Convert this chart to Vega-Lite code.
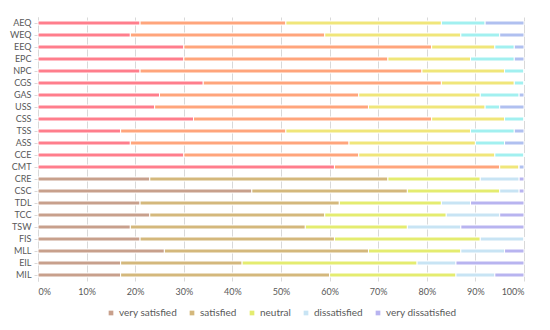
{
  "$schema": "https://vega.github.io/schema/vega-lite/v6.json",
  "width": 486,
  "height": 264,
  "autosize": {"type": "none"},
  "padding": {"left": 38, "top": 17, "right": 26, "bottom": 49},
  "background": "white",
  "config": {
    "font": "Lato",
    "view": {"stroke": null},
    "axis": {"labelFont": "Lato", "labelColor": "#595959", "labelFontSize": 9}
  },
  "datasets": {
    "levels": [
      {"level": "very satisfied", "rank": 1},
      {"level": "satisfied", "rank": 2},
      {"level": "neutral", "rank": 3},
      {"level": "dissatisfied", "rank": 4},
      {"level": "very dissatisfied", "rank": 5}
    ]
  },
  "data": {
    "values": [
      {"q": "AEQ", "g": "A", "very satisfied": 21, "satisfied": 30, "neutral": 32, "dissatisfied": 9, "very dissatisfied": 8},
      {"q": "WEQ", "g": "A", "very satisfied": 19, "satisfied": 40, "neutral": 28, "dissatisfied": 8, "very dissatisfied": 5},
      {"q": "EEQ", "g": "A", "very satisfied": 30, "satisfied": 51, "neutral": 13, "dissatisfied": 4, "very dissatisfied": 2},
      {"q": "EPC", "g": "A", "very satisfied": 30, "satisfied": 42, "neutral": 17, "dissatisfied": 9, "very dissatisfied": 2},
      {"q": "NPC", "g": "A", "very satisfied": 21, "satisfied": 58, "neutral": 17, "dissatisfied": 4, "very dissatisfied": 0},
      {"q": "CGS", "g": "A", "very satisfied": 34, "satisfied": 49, "neutral": 15, "dissatisfied": 2, "very dissatisfied": 0},
      {"q": "GAS", "g": "A", "very satisfied": 25, "satisfied": 41, "neutral": 25, "dissatisfied": 8, "very dissatisfied": 1},
      {"q": "USS", "g": "A", "very satisfied": 24, "satisfied": 44, "neutral": 24, "dissatisfied": 3, "very dissatisfied": 5},
      {"q": "CSS", "g": "A", "very satisfied": 32, "satisfied": 49, "neutral": 15, "dissatisfied": 4, "very dissatisfied": 0},
      {"q": "TSS", "g": "A", "very satisfied": 17, "satisfied": 34, "neutral": 38, "dissatisfied": 9, "very dissatisfied": 2},
      {"q": "ASS", "g": "A", "very satisfied": 19, "satisfied": 45, "neutral": 26, "dissatisfied": 6, "very dissatisfied": 4},
      {"q": "CCE", "g": "A", "very satisfied": 30, "satisfied": 36, "neutral": 28, "dissatisfied": 6, "very dissatisfied": 0},
      {"q": "CMT", "g": "A", "very satisfied": 61, "satisfied": 34, "neutral": 4, "dissatisfied": 0, "very dissatisfied": 1},
      {"q": "CRE", "g": "B", "very satisfied": 23, "satisfied": 49, "neutral": 19, "dissatisfied": 8, "very dissatisfied": 1},
      {"q": "CSC", "g": "B", "very satisfied": 44, "satisfied": 32, "neutral": 19, "dissatisfied": 4, "very dissatisfied": 1},
      {"q": "TDL", "g": "B", "very satisfied": 21, "satisfied": 41, "neutral": 21, "dissatisfied": 6, "very dissatisfied": 11},
      {"q": "TCC", "g": "B", "very satisfied": 23, "satisfied": 36, "neutral": 25, "dissatisfied": 11, "very dissatisfied": 5},
      {"q": "TSW", "g": "B", "very satisfied": 19, "satisfied": 36, "neutral": 21, "dissatisfied": 11, "very dissatisfied": 13},
      {"q": "FIS", "g": "B", "very satisfied": 21, "satisfied": 40, "neutral": 30, "dissatisfied": 9, "very dissatisfied": 0},
      {"q": "MLL", "g": "B", "very satisfied": 26, "satisfied": 42, "neutral": 19, "dissatisfied": 9, "very dissatisfied": 4},
      {"q": "EIL", "g": "B", "very satisfied": 17, "satisfied": 25, "neutral": 36, "dissatisfied": 8, "very dissatisfied": 14},
      {"q": "MIL", "g": "B", "very satisfied": 17, "satisfied": 43, "neutral": 26, "dissatisfied": 8, "very dissatisfied": 6}
    ]
  },
  "transform": [
    {"fold": ["very satisfied", "satisfied", "neutral", "dissatisfied", "very dissatisfied"], "as": ["level", "pct"]},
    {"lookup": "level", "from": {"data": {"name": "levels"}, "key": "level", "fields": ["rank"]}}
  ],
  "encoding": {
    "y": {
      "field": "q", "type": "nominal",
      "sort": ["AEQ","WEQ","EEQ","EPC","NPC","CGS","GAS","USS","CSS","TSS","ASS","CCE","CMT","CRE","CSC","TDL","TCC","TSW","FIS","MLL","EIL","MIL"],
      "scale": {"paddingInner": 0.6, "paddingOuter": 0.3},
      "axis": {"title": null, "domainColor": "#d9d9d9", "tickColor": "#d9d9d9", "tickSize": 4, "labelPadding": 3, "grid": false}
    },
    "x": {
      "field": "pct", "type": "quantitative", "stack": "normalize",
      "scale": {"domain": [0, 1], "nice": false},
      "axis": {"title": null, "format": "%", "values": [0,0.1,0.2,0.3,0.4,0.5,0.6,0.7,0.8,0.9,1], "grid": true, "gridColor": "#d9d9d9", "domain": false, "ticks": false, "labelPadding": 6}
    },
    "order": {"field": "rank", "type": "quantitative", "sort": "ascending"}
  },
  "layer": [
    {
      "transform": [{"filter": "datum.g === 'A'"}],
      "mark": {"type": "bar", "size": 4, "stroke": "white", "strokeWidth": 1},
      "encoding": {
        "color": {
          "field": "level", "type": "nominal",
          "sort": ["very satisfied", "satisfied", "neutral", "dissatisfied", "very dissatisfied"],
          "scale": {"domain": ["very satisfied", "satisfied", "neutral", "dissatisfied", "very dissatisfied"], "range": ["#ff7e8c", "#ffa57c", "#f0e67a", "#a2f0f0", "#b0c0f0"]},
          "legend": null
        }
      }
    },
    {
      "transform": [{"filter": "datum.g === 'B'"}],
      "mark": {"type": "bar", "size": 4, "stroke": "white", "strokeWidth": 1},
      "encoding": {
        "color": {
          "field": "level", "type": "nominal",
          "sort": ["very satisfied", "satisfied", "neutral", "dissatisfied", "very dissatisfied"],
          "scale": {"domain": ["very satisfied", "satisfied", "neutral", "dissatisfied", "very dissatisfied"], "range": ["#c8a08c", "#d4b87c", "#e4ec70", "#c8e4f4", "#b8b4f0"]},
          "legend": {"title": null, "orient": "none", "legendX": 68, "legendY": 291, "direction": "horizontal", "symbolType": "square", "symbolSize": 22, "symbolOffset": 0, "labelFontSize": 10, "labelOffset": 3, "labelColor": "#595959", "labelFont": "Lato", "columnPadding": 10, "symbolStrokeWidth": 0}
        }
      }
    }
  ],
  "resolve": {"scale": {"color": "independent"}}
}
